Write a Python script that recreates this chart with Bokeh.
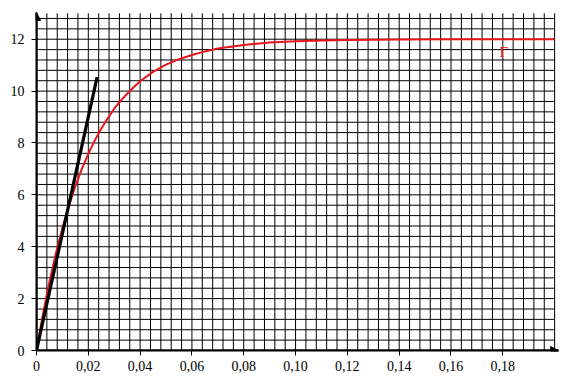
import numpy as np
from bokeh.plotting import figure
from bokeh.models import Range1d, FixedTicker, Arrow, NormalHead
from bokeh.core.properties import value
from bokeh.embed import file_html
from bokeh.resources import INLINE

# Curve Γ
t_curve = [0, 0.0025, 0.005, 0.0075, 0.01, 0.0125, 0.015, 0.0175, 0.02, 0.0225,
           0.025, 0.0275, 0.03, 0.0325, 0.035, 0.0375, 0.04, 0.045, 0.05, 0.055,
           0.06, 0.065, 0.07, 0.08, 0.09, 0.10, 0.11, 0.12, 0.14, 0.16, 0.18, 0.20]
u_curve = [0, 1.41, 2.65, 3.75, 4.72, 5.57, 6.33, 7.00, 7.58, 8.10,
           8.55, 8.95, 9.32, 9.63, 9.90, 10.15, 10.38, 10.74, 11.02, 11.23,
           11.39, 11.53, 11.64, 11.78, 11.87, 11.92, 11.95, 11.97, 11.99, 12.0, 12.0, 12.0]

# Tangent segment
t_tan = [0, 0.0234]
u_tan = [0, 10.54]

x_ticks = [0, 0.02, 0.04, 0.06, 0.08, 0.10, 0.12, 0.14, 0.16, 0.18]
x_tick_labels = ["0", "0,02", "0,04", "0,06", "0,08", "0,10", "0,12", "0,14", "0,16", "0,18"]
y_ticks = [0, 2, 4, 6, 8, 10, 12]
y_tick_labels = ["0", "2", "4", "6", "8", "10", "12"]

label_text = ["Γ"]
label_x = [0.1804]
label_y = [11.5]

X_MAX = 0.2015
Y_MAX = 13.03
GRID_X_END = 0.2
GRID_Y_END = 13.0
SERIF = "'Liberation Serif', 'DejaVu Serif', serif"

p = figure(frame_width=522, frame_height=338,
           min_border_left=36, min_border_right=5, min_border_top=12, min_border_bottom=32,
           x_range=Range1d(0, X_MAX), y_range=Range1d(0, Y_MAX),
           output_backend="svg", toolbar_location=None)
p.outline_line_color = None
p.xgrid.visible = False
p.ygrid.visible = False

# Fine grid
gx = np.arange(1, 51) * 0.004
gy = np.arange(1, 33) * 0.4
p.segment(x0=gx, y0=0, x1=gx, y1=GRID_Y_END, line_color="black", line_width=1)
p.segment(x0=0, y0=gy, x1=GRID_X_END, y1=gy, line_color="black", line_width=1)

# Curve and tangent
p.line(t_curve, u_curve, line_color="#e8141c", line_width=2)
p.line(t_tan, u_tan, line_color="black", line_width=3.2)

p.text(x=label_x, y=label_y, text=label_text, text_color="#e8141c",
       text_font=value(SERIF), text_font_size="15px",
       text_align="center", text_baseline="middle")

# Axes
for ax in (p.xaxis[0], p.yaxis[0]):
    ax.axis_line_width = 2
    ax.axis_line_color = "black"
    ax.major_tick_in = 0
    ax.major_tick_out = 5
    ax.major_tick_line_width = 1
    ax.minor_tick_line_color = None
    ax.major_label_text_font = SERIF
    ax.major_label_text_font_size = "14px"
    ax.major_label_text_color = "black"

p.xaxis[0].ticker = FixedTicker(ticks=x_ticks)
p.xaxis[0].major_label_overrides = {tv: lab for tv, lab in zip(x_ticks, x_tick_labels)}
p.xaxis[0].major_label_standoff = 5
p.yaxis[0].ticker = FixedTicker(ticks=y_ticks)
p.yaxis[0].major_label_overrides = {tv: lab for tv, lab in zip(y_ticks, y_tick_labels)}
p.yaxis[0].major_label_standoff = 7

p.add_layout(Arrow(end=NormalHead(size=8, fill_color="black", line_color="black"),
                   x_start=0, y_start=0, x_end=X_MAX, y_end=0,
                   line_width=2, line_color="black"))
p.add_layout(Arrow(end=NormalHead(size=8, fill_color="black", line_color="black"),
                   x_start=0, y_start=0, x_end=0, y_end=Y_MAX,
                   line_width=2, line_color="black"))

open("out.html", "w").write(file_html(p, INLINE))
